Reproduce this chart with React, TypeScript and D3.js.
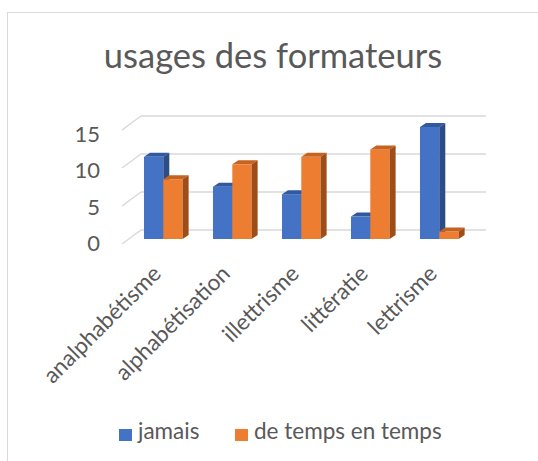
import * as d3 from 'd3';

const categories = ['analphabétisme', 'alphabétisation', 'illettrisme', 'littératie', 'lettrisme'];
const seriesNames = ['jamais', 'de temps en temps'];
const jamais = [11, 7, 6, 3, 15];
const deTemps = [8, 10, 11, 12, 1];
const yTicks = [0, 5, 10, 15];

const colors = {
    jamais: { front: '#4472C4', top: '#31599F', side: '#2C4D87' },
    'de temps en temps': { front: '#ED7D31', top: '#C5631F', side: '#9E4C18' },
};

const font = 'Lato, "Open Sans", sans-serif';
const textColor = '#595959';
const gridColor = '#D9D9D9';

// 3D offsets
const wallDx = 19;
const wallDy = -14;
const barDx = 6;
const barDy = -4;

function App() {
    const width = 538;
    const height = 461;

    const wallLeft = 141;
    const wallRight = 486;

    const yBack = d3.scaleLinear([0, 15], [230, 116]);
    const yLabel = d3.scaleLinear([0, 15], [243, 134]);
    const yBar = d3.scaleLinear([0, 15], [239, 127]);

    const x = d3.scaleBand(categories, [128.8, 473.8]).paddingInner(0.44).paddingOuter(0.22);
    const xs = d3.scaleBand(seriesNames, [0, x.bandwidth()]);

    const values = { jamais, 'de temps en temps': deTemps };

    const bars = [];
    categories.forEach((c, i) => {
        seriesNames.forEach((s) => {
            const v = values[s][i];
            const x0 = x(c) + xs(s);
            const x1 = x0 + xs.bandwidth();
            bars.push({ key: `${c}-${s}`, s, x0, x1, yT: yBar(v), yB: yBar(0) });
        });
    });

    return (
        <svg width={width} height={height} style={{ position: 'absolute', left: 0, top: 0, background: '#fff' }}>
            <rect x={7.5} y={12.5} width={width} height={height} fill="#fff" stroke={gridColor} strokeWidth={1} />

            <text x={273} y={68} textAnchor="middle" fontFamily={font} fontSize={34.5} fill={textColor}>
                usages des formateurs
            </text>

            {/* gridlines: back wall + left wall diagonals */}
            <g stroke={gridColor} strokeWidth={1.5} fill="none">
                {yTicks.map((t) => (
                    <g key={t}>
                        <line x1={wallLeft} x2={wallRight} y1={yBack(t)} y2={yBack(t)} />
                        <line x1={wallLeft - wallDx} y1={yBack(t) - wallDy} x2={wallLeft} y2={yBack(t)} />
                    </g>
                ))}
            </g>

            <g fontFamily={font} fontSize={22} fill={textColor} textAnchor="end">
                {yTicks.map((t) => (
                    <text key={t} x={100} y={yLabel(t)} dy="0.36em">
                        {t}
                    </text>
                ))}
            </g>

            <g>
                {bars.map((b) => {
                    const c = colors[b.s];
                    return (
                        <g key={b.key}>
                            <rect x={b.x0} y={b.yT} width={b.x1 - b.x0} height={b.yB - b.yT} fill={c.front} />
                            <path
                                d={`M${b.x0},${b.yT}L${b.x0 + barDx},${b.yT + barDy}L${b.x1 + barDx},${b.yT + barDy}L${b.x1},${b.yT}Z`}
                                fill={c.top}
                            />
                            <path
                                d={`M${b.x1},${b.yT}L${b.x1 + barDx},${b.yT + barDy}L${b.x1 + barDx},${b.yB + barDy}L${b.x1},${b.yB}Z`}
                                fill={c.side}
                            />
                        </g>
                    );
                })}
            </g>

            <g fontFamily={font} fontSize={22.5} fill={textColor} textAnchor="end">
                {categories.map((c) => {
                    const cx = x(c) + x.bandwidth() / 2 - 1;
                    return (
                        <text key={c} transform={`translate(${cx},${275}) rotate(-45)`}>
                            {c}
                        </text>
                    );
                })}
            </g>

            <g fontFamily={font} fontSize={22.5} fill={textColor}>
                <rect x={119} y={429} width={13} height={12} fill={colors.jamais.front} />
                <text x={138} y={439}>jamais</text>
                <rect x={235} y={429} width={13} height={12} fill={colors['de temps en temps'].front} />
                <text x={254} y={439}>de temps en temps</text>
            </g>
        </svg>
    );
}

export default App;
